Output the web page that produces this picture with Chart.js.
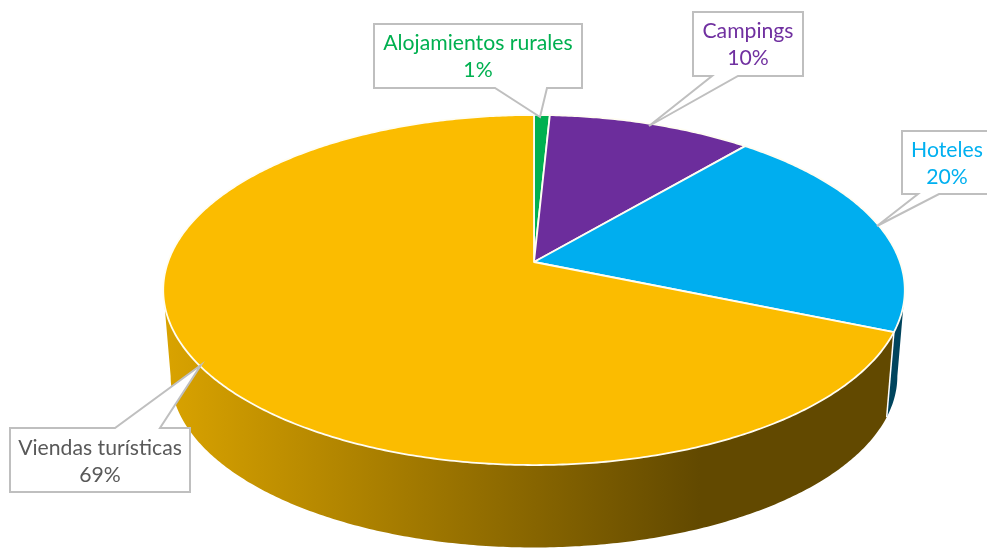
<!DOCTYPE html>
<html lang="es">
<head>
  <meta charset="UTF-8">
  <title>Plazas por tipo de alojamiento</title>
  <style>
    html, body { margin: 0; padding: 0; background: #fff; overflow: hidden; }
    canvas { display: block; }
  </style>
</head>
<body>
  <canvas id="chart" width="987" height="548"></canvas>

  <script src="https://cdn.jsdelivr.net/npm/chart.js"></script>
  <script>
    const categories = ['Alojamientos rurales', 'Campings', 'Hoteles', 'Viendas turísticas'];
    const shares = [0.8, 10.4, 20.1, 68.7];
    const shareLabels = ['1%', '10%', '20%', '69%'];
    const sliceColors = ['#00B050', '#6C2D9C', '#00AEEF', '#FBBC00'];
    const textColors = ['#00B050', '#7030A0', '#00B0F0', '#595959'];

    // callout boxes: box edges, leader base on the box edge, leader tip on the pie
    const callouts = [
      { left: 374, top: 24, right: 582, bottom: 88, edge: 'bottom', base: [495, 547], tip: [540, 117], textX: 478, textY: 43 },
      { left: 693, top: 12, right: 803, bottom: 76, edge: 'bottom', base: [712, 738], tip: [649, 126], textX: 748, textY: 31 },
      { left: 902, top: 131, right: 995, bottom: 194, edge: 'bottom', base: [918, 939], tip: [877, 226], textX: 947, textY: 150 },
      { left: 10, top: 428, right: 190, bottom: 492, edge: 'top', base: [115, 160], tip: [201, 365], textX: 100, textY: 448 }
    ];

    // perspective of the tilted disc
    const TILT = 0.466;      // vertical squash
    const NEAR = 0.16;       // how much the front of the disc grows
    const FLOOR_SCALE = 0.98;
    const FLOOR_DROP = 86.5;

    function project(el, t, scale, drop) {
      const w = 1 - NEAR * Math.sin(t);
      return {
        x: el.x + el.outerRadius * scale * Math.cos(t) / w,
        y: el.y + drop + el.outerRadius * TILT * scale * Math.sin(t) / w
      };
    }

    function rimAngles(a, b) {
      const out = [];
      const steps = Math.max(2, Math.ceil((b - a) / 0.01));
      for (let i = 0; i <= steps; i++) out.push(a + (b - a) * i / steps);
      return out;
    }

    function shade(hex, f) {
      const n = parseInt(hex.slice(1), 16);
      return `rgb(${((n >> 16) & 255) * f},${((n >> 8) & 255) * f},${(n & 255) * f})`;
    }

    function drawWall(ctx, el, color) {
      // only the part of the side facing the viewer
      const edge = Math.asin(NEAR);
      let a = el.startAngle, b = el.endAngle;
      a = Math.max(a, edge);
      b = Math.min(b, Math.PI - edge);
      if (b <= a) return;
      const angles = rimAngles(a, b);
      ctx.beginPath();
      angles.forEach((t, i) => {
        const p = project(el, t, 1, 0);
        if (i === 0) ctx.moveTo(p.x, p.y); else ctx.lineTo(p.x, p.y);
      });
      angles.slice().reverse().forEach(t => {
        const p = project(el, t, FLOOR_SCALE, FLOOR_DROP);
        ctx.lineTo(p.x, p.y);
      });
      ctx.closePath();
      const grad = ctx.createLinearGradient(170, 0, 700, 0);
      grad.addColorStop(0, shade(color, 0.86));
      grad.addColorStop(1, shade(color, 0.39));
      ctx.fillStyle = grad;
      ctx.fill();
    }

    function drawTop(ctx, el, color) {
      ctx.beginPath();
      ctx.moveTo(el.x, el.y);
      rimAngles(el.startAngle, el.endAngle).forEach(t => {
        const p = project(el, t, 1, 0);
        ctx.lineTo(p.x, p.y);
      });
      ctx.closePath();
      ctx.fillStyle = color;
      ctx.fill();
      ctx.strokeStyle = '#FFFDF2';
      ctx.lineWidth = 1.8;
      ctx.lineJoin = 'round';
      ctx.stroke();
    }

    const tiltedPie = {
      id: 'tiltedPie',
      beforeDatasetDraw(chart, args) {
        const ctx = chart.ctx;
        const arcs = args.meta.data;
        ctx.save();
        arcs.forEach((el, i) => drawWall(ctx, el, sliceColors[i]));
        // seam where the side changes colour
        const seam = arcs[2].endAngle;
        const s0 = project(arcs[2], seam, 1, 0);
        const s1 = project(arcs[2], seam, FLOOR_SCALE, FLOOR_DROP);
        ctx.strokeStyle = '#FFFFFF';
        ctx.lineWidth = 1.5;
        ctx.beginPath();
        ctx.moveTo(s0.x, s0.y);
        ctx.lineTo(s1.x, s1.y);
        ctx.stroke();
        arcs.forEach((el, i) => drawTop(ctx, el, sliceColors[i]));
        ctx.restore();
        return false;
      },
      afterDraw(chart) {
        const ctx = chart.ctx;
        ctx.save();
        callouts.forEach((c, i) => {
          const edgeY = c.edge === 'top' ? c.top : c.bottom;
          ctx.beginPath();
          ctx.moveTo(c.left, c.top);
          if (c.edge === 'top') {
            ctx.lineTo(c.base[0], edgeY);
            ctx.lineTo(c.tip[0], c.tip[1]);
            ctx.lineTo(c.base[1], edgeY);
          }
          ctx.lineTo(c.right, c.top);
          ctx.lineTo(c.right, c.bottom);
          if (c.edge === 'bottom') {
            ctx.lineTo(c.base[1], edgeY);
            ctx.lineTo(c.tip[0], c.tip[1]);
            ctx.lineTo(c.base[0], edgeY);
          }
          ctx.lineTo(c.left, c.bottom);
          ctx.closePath();
          ctx.fillStyle = '#FFFFFF';
          ctx.fill();
          ctx.strokeStyle = '#BFBFBF';
          ctx.lineWidth = 2;
          ctx.lineJoin = 'miter';
          ctx.stroke();

          ctx.fillStyle = textColors[i];
          ctx.font = '21.2px Lato, "Open Sans", sans-serif';
          ctx.textAlign = 'center';
          ctx.textBaseline = 'middle';
          ctx.fillText(categories[i], c.textX, c.textY);
          ctx.fillText(shareLabels[i], c.textX, c.textY + 27);
        });
        ctx.restore();
      }
    };

    new Chart(document.getElementById('chart').getContext('2d'), {
      type: 'pie',
      data: {
        labels: categories,
        datasets: [{
          data: shares,
          backgroundColor: sliceColors,
          borderWidth: 0
        }]
      },
      options: {
        responsive: false,
        animation: false,
        radius: 366,
        layout: { padding: { left: 81, right: 0, top: 0, bottom: 24 } },
        plugins: {
          legend: { display: false },
          tooltip: { enabled: false }
        }
      },
      plugins: [tiltedPie]
    });
  </script>
</body>
</html>
